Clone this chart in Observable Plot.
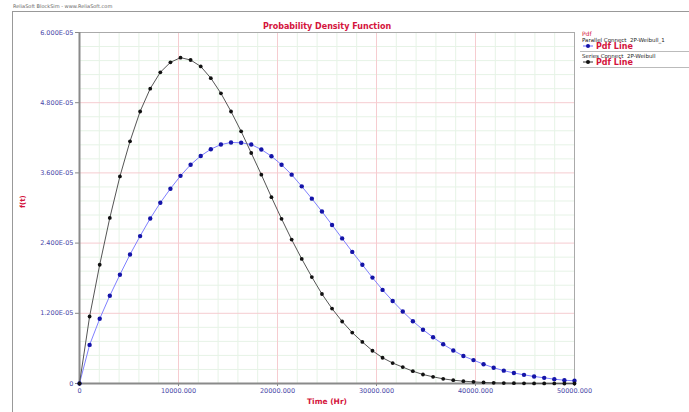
<!DOCTYPE html>
<html>
<head>
<meta charset="utf-8">
<script src="https://cdn.jsdelivr.net/npm/d3@7"></script>
<script src="https://cdn.jsdelivr.net/npm/@observablehq/plot@0.6"></script>
<style>
  html, body { margin: 0; padding: 0; background: #fff; }
  #chart { width: 689px; height: 412px; }
</style>
</head>
<body>
<div id="chart"></div>
<script>
// ---- Data ----
const times = [0, 1020, 2041, 3061, 4082, 5102, 6122, 7143, 8163, 9184,
  10204, 11224, 12245, 13265, 14286, 15306, 16327, 17347, 18367, 19388,
  20408, 21429, 22449, 23469, 24490, 25510, 26531, 27551, 28571, 29592,
  30612, 31633, 32653, 33673, 34694, 35714, 36735, 37755, 38776, 39796,
  40816, 41837, 42857, 43878, 44898, 45918, 46939, 47959, 48980, 50000];

// Parallel Connect 2P-Weibull_1 (blue), f(t) in units of 1e-5
const parallelPdf = [0, 0.66, 1.106, 1.50, 1.86, 2.205, 2.52, 2.82, 3.09, 3.33,
  3.55, 3.74, 3.89, 4.005, 4.085, 4.12, 4.115, 4.085, 4.00, 3.885,
  3.74, 3.57, 3.37, 3.16, 2.94, 2.71, 2.48, 2.25, 2.03, 1.81,
  1.60, 1.41, 1.23, 1.065, 0.92, 0.79, 0.67, 0.565, 0.47, 0.40,
  0.33, 0.27, 0.22, 0.18, 0.148, 0.12, 0.097, 0.074, 0.056, 0.046];

// Series Connect 2P-Weibull (black), f(t) in units of 1e-5
const seriesPdf = [0, 1.145, 2.03, 2.83, 3.54, 4.14, 4.65, 5.04, 5.32, 5.49,
  5.57, 5.53, 5.42, 5.22, 4.96, 4.65, 4.31, 3.94, 3.57, 3.185,
  2.815, 2.46, 2.13, 1.82, 1.53, 1.28, 1.06, 0.87, 0.71, 0.56,
  0.44, 0.35, 0.28, 0.21, 0.154, 0.114, 0.08, 0.056, 0.04, 0.028,
  0.018, 0.012, 0.008, 0.005, 0.003, 0.002, 0.0012, 0.0007, 0.0004, 0.0002];

const seriesNames = ["Parallel Connect  2P-Weibull_1", "Series Connect  2P-Weibull"];

const xTicks = [0, 10000, 20000, 30000, 40000, 50000];
const xTickLabels = ["0", "10000.000", "20000.000", "30000.000", "40000.000", "50000.000"];
const yTicks = [0, 1.2e-5, 2.4e-5, 3.6e-5, 4.8e-5, 6.0e-5];
const yTickLabels = ["0", "1.200E-05", "2.400E-05", "3.600E-05", "4.800E-05", "6.000E-05"];
const xMinor = [2000, 4000, 6000, 8000, 12000, 14000, 16000, 18000, 22000, 24000, 26000, 28000,
  32000, 34000, 36000, 38000, 42000, 44000, 46000, 48000];
const yMinor = [0.24e-5, 0.48e-5, 0.72e-5, 0.96e-5, 1.44e-5, 1.68e-5, 1.92e-5, 2.16e-5,
  2.64e-5, 2.88e-5, 3.12e-5, 3.36e-5, 3.84e-5, 4.08e-5, 4.32e-5, 4.56e-5,
  5.04e-5, 5.28e-5, 5.52e-5, 5.76e-5];

// ---- Build table ----
const rows = [];
times.forEach((t, i) => rows.push({t, v: parallelPdf[i] * 1e-5, s: seriesNames[0]}));
times.forEach((t, i) => rows.push({t, v: seriesPdf[i] * 1e-5, s: seriesNames[1]}));
const par = rows.filter(d => d.s === seriesNames[0]);
const ser = rows.filter(d => d.s === seriesNames[1]);

const red = "#d4143c";
const tickBlue = "#4a48a8";
const font = "DejaVu Sans";

const svg = Plot.plot({
  width: 689,
  height: 412,
  marginLeft: 79,
  marginRight: 115,
  marginTop: 32,
  marginBottom: 29,
  style: {fontFamily: font, fontSize: "6.5px", background: "#fff", color: "#777"},
  x: {domain: [0, 50000]},
  y: {domain: [0, 6e-5]},
  marks: [
    Plot.gridX(xMinor, {stroke: "#e6f3e6", strokeOpacity: 1}),
    Plot.gridY(yMinor, {stroke: "#e6f3e6", strokeOpacity: 1}),
    Plot.gridX(xTicks, {stroke: "#f6ccd0", strokeOpacity: 1}),
    Plot.gridY(yTicks, {stroke: "#f6ccd0", strokeOpacity: 1}),
    Plot.frame({stroke: "#aaaaaa"}),
    Plot.axisX(xTicks, {tickFormat: d => xTickLabels[xTicks.indexOf(d)], tickSize: 3, tickPadding: 2,
      stroke: "#888", fill: tickBlue, label: null}),
    Plot.axisY(yTicks, {tickFormat: d => yTickLabels[yTicks.indexOf(d)], tickSize: 4, tickPadding: 2,
      stroke: "#888", fill: tickBlue, label: null}),
    Plot.ruleX([0], {stroke: "#8a8a8a", strokeWidth: 2}),
    Plot.ruleY([0], {stroke: "#8a8a8a", strokeWidth: 2}),
    Plot.line(par, {x: "t", y: "v", stroke: "#7f80ff", strokeWidth: 1}),
    Plot.line(ser, {x: "t", y: "v", stroke: "#555555", strokeWidth: 1}),
    Plot.dot(par, {x: "t", y: "v", r: 2.2, fill: "#1414a8", stroke: "none"}),
    Plot.dot(ser, {x: "t", y: "v", r: 1.9, fill: "#111111", stroke: "none"}),
    Plot.text(["Probability Density Function"], {frameAnchor: "top", dy: -9, fill: red, fontWeight: "bold", fontSize: 8}),
    Plot.text(["Time (Hr)"], {frameAnchor: "bottom", dy: 20, fill: red, fontWeight: "bold", fontSize: 7.5}),
    Plot.text(["f(t)"], {frameAnchor: "left", dx: -57, rotate: -90, fill: red, fontWeight: "bold", fontSize: 7})
  ]
});

document.getElementById("chart").appendChild(svg);

// ---- Decorations: window frame, header, legend ----
const s = d3.select(svg);
const deco = s.append("g").attr("text-anchor", "start").attr("font-family", font);
deco.append("line").attr("x1", 12).attr("x2", 689).attr("y1", 11.5).attr("y2", 11.5).attr("stroke", "#999");
deco.append("line").attr("x1", 12.5).attr("x2", 12.5).attr("y1", 11).attr("y2", 412).attr("stroke", "#999");
deco.append("text").attr("x", 13).attr("y", 8).attr("font-size", 5).attr("fill", "#666")
  .text("ReliaSoft BlockSim - www.ReliaSoft.com");

const lg = s.append("g").attr("font-family", font).attr("text-anchor", "start");
lg.append("text").attr("x", 582).attr("y", 36).attr("font-size", 6).attr("fill", red).text("Pdf");
const entries = [
  {name: seriesNames[0], line: "#7f80ff", dot: "#1414a8", y: 42},
  {name: seriesNames[1], line: "#555555", dot: "#111111", y: 58}
];
entries.forEach(e => {
  lg.append("text").attr("x", 582).attr("y", e.y).attr("font-size", 5.5).attr("fill", "#222").text(e.name);
  lg.append("line").attr("x1", 583).attr("x2", 593).attr("y1", e.y + 4).attr("y2", e.y + 4)
    .attr("stroke", e.line).attr("stroke-width", 1.2);
  lg.append("circle").attr("cx", 588).attr("cy", e.y + 4).attr("r", 2).attr("fill", e.dot);
  lg.append("text").attr("x", 596).attr("y", e.y + 7).attr("font-size", 8).attr("font-weight", "bold")
    .attr("fill", red).text("Pdf Line");
  lg.append("line").attr("x1", 580).attr("x2", 689).attr("y1", e.y + 9.5).attr("y2", e.y + 9.5)
    .attr("stroke", "#bbb");
});
</script>
</body>
</html>
